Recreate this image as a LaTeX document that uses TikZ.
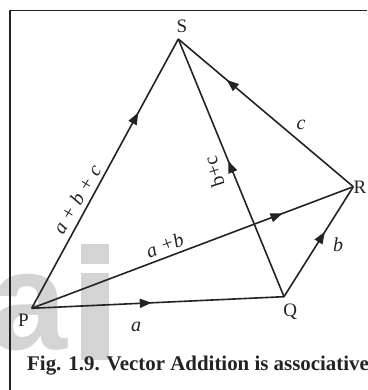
\documentclass[tikz,border=0pt]{standalone}
\usepackage{fontspec}
\setmainfont{Liberation Serif}
\newfontfamily\wmfont{Liberation Sans}
\usetikzlibrary{arrows.meta,decorations.markings}
\definecolor{ink}{HTML}{232323}
\definecolor{wm}{HTML}{D4D4D4}
\begin{document}
\begin{tikzpicture}[x=1pt,y=-1pt,
  vec/.style={draw=ink,line width=1.6pt},
  arrowat/.style={postaction={decorate},decoration={markings,mark=at position #1 with {\arrow[ink]{Triangle[length=12pt,width=9pt]}}}},
  vlabel/.style={font=\fontsize{19}{19}\selectfont,text=ink,inner sep=0pt,anchor=base},
  elabel/.style={font=\fontsize{20}{20}\selectfont\itshape,text=ink,inner sep=0pt},
  rlabel/.style={font=\fontsize{20}{20}\selectfont,text=ink,inner sep=0pt},
  frameline/.style={draw=ink,line width=1.4pt}]
\useasboundingbox (0,0) rectangle (367,390);
\clip (0,0) rectangle (367,390);
% watermark
\node[font=\wmfont\bfseries\fontsize{140}{140}\selectfont, text=wm, anchor=base east, inner sep=0pt] (wa) at (68,349) {a};
\fill[wm] (81,244) rectangle (109,264);
\fill[wm] (81,273) rectangle (109,360);
% frame
\draw[frameline] (10,391) -- (10,10.5) -- (368,10.5);
% vertices
\coordinate (P) at (31.7,308.3);
\coordinate (Q) at (284,296.7);
\coordinate (R) at (353.3,186.7);
\coordinate (S) at (178.3,39);
% vectors
\draw[vec,arrowat=0.476] (P) -- (Q);
\draw[vec,arrowat=0.78] (P) -- (R);
\draw[vec,arrowat=0.727] (P) -- (S);
\draw[vec,arrowat=0.59] (Q) -- (R);
\draw[vec,arrowat=0.527] (Q) -- (S);
\draw[vec,arrowat=0.723] (R) -- (S);
% vertex labels
\node[vlabel] (lP) at (23.3,326) {P};
\node[vlabel] (lQ) at (290.3,316.7) {Q};
\node[vlabel] (lS) at (182,32.3) {S};
\node[vlabel,anchor=base west] (lR) at (353.5,193.3) {R};
% edge labels
\node[elabel,anchor=base] (la) at (136,331.7) {a};
\node[elabel,anchor=base] (lb) at (338,251.7) {b};
\node[elabel,anchor=base] (lc) at (301,130) {c};
\node[elabel,rotate=59] (labc) at (76.7,199) {a + b + c};
\node[elabel,rotate=20.7] (lab) at (164.7,245) {a +b};
\node[rlabel,rotate=108] (lbc) at (214,172) {b+c};
% caption
\node[font=\fontsize{20.9}{20.9}\selectfont\bfseries,text=ink,anchor=base west,inner sep=0pt] (cap) at (27,370.5) {Fig. 1.9. Vector Addition is associative};
\end{tikzpicture}
\end{document}
